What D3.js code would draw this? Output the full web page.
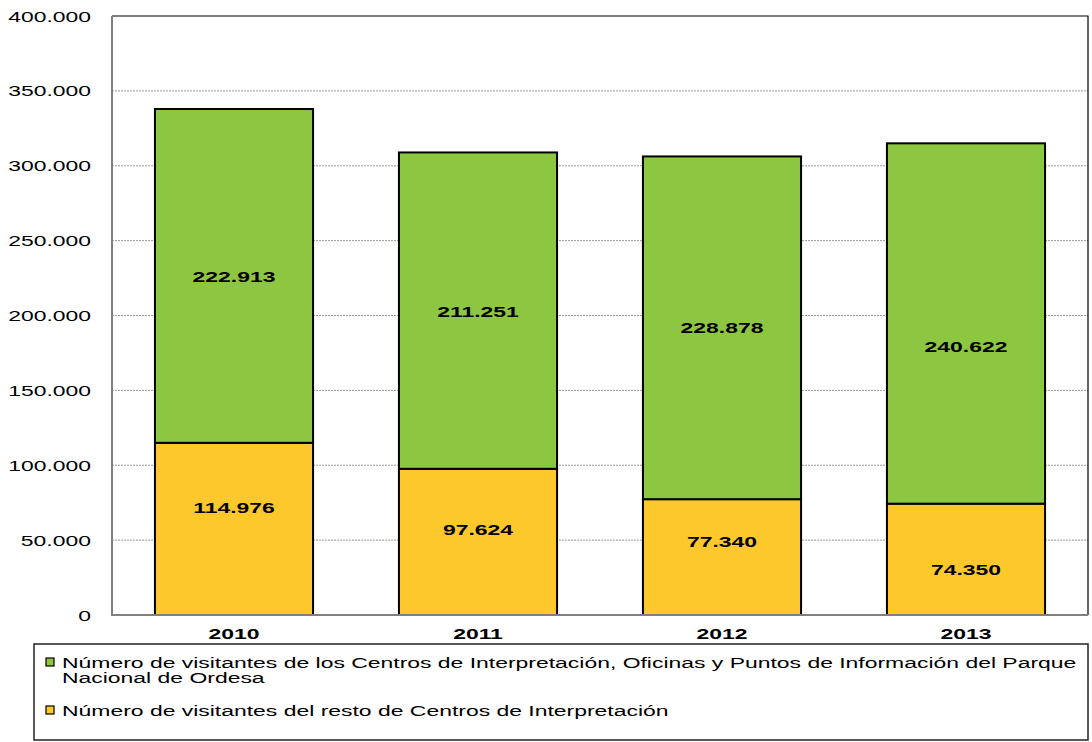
<!DOCTYPE html>
<html>
<head>
<meta charset="utf-8">
<script src="https://cdn.jsdelivr.net/npm/d3@7/dist/d3.min.js"></script>
<style>
  html, body { margin: 0; padding: 0; background: #fff; }
  svg { display: block; }
  text { font-family: "Liberation Sans", Arial, sans-serif; fill: #000; }
</style>
</head>
<body>
<svg id="chart" width="1092" height="742"></svg>
<script>
// ---- data ----
const categories = ["2010", "2011", "2012", "2013"];
const seriesNames = [
  "Número de visitantes de los Centros de Interpretación, Oficinas y Puntos de Información del Parque Nacional de Ordesa",
  "Número de visitantes del resto de Centros de Interpretación"
];
const restoValues = [114976, 97624, 77340, 74350];
const ordesaValues = [222913, 211251, 228878, 240622];
// label anchor values (in data units) as placed in the picture
const restoLabelAt = [71500, 57400, 48800, 30700];
const ordesaLabelAt = [226400, 203000, 191700, 179000];
const yTicks = [0, 50000, 100000, 150000, 200000, 250000, 300000, 350000, 400000];

// ---- setup ----
const W = 1092, H = 742;
const plot = { left: 112, right: 1088, top: 16, bottom: 615 };
const SX = 1.48; // horizontal stretch of text
const colors = { ordesa: "#8DC641", resto: "#FDC82B" };

const svg = d3.select("#chart");
const fmt = d3.formatLocale({ decimal: ",", thousands: ".", grouping: [3], currency: ["", "€"] }).format(",d");

const x = d3.scaleBand().domain(categories).range([plot.left, plot.right]).paddingInner(0.352).paddingOuter(0.176);
const y = d3.scaleLinear().domain([0, 400000]).range([plot.bottom, plot.top]);

function stretchedText(g, tx, ty, str, opts) {
  const t = g.append("text")
    .attr("transform", `translate(${tx},${ty}) scale(${SX},1)`)
    .attr("text-anchor", opts.anchor || "middle")
    .attr("dominant-baseline", "central")
    .style("font-size", (opts.size || 15.5) + "px")
    .style("font-weight", opts.bold ? "bold" : "normal")
    .text(str);
  return t;
}

// plot background
svg.append("rect").attr("x", plot.left).attr("y", plot.top)
  .attr("width", plot.right - plot.left).attr("height", plot.bottom - plot.top)
  .attr("fill", "#fff");

// gridlines
svg.append("g").selectAll("line").data(yTicks.filter(d => d > 0 && d < 400000)).join("line")
  .attr("x1", plot.left).attr("x2", plot.right)
  .attr("y1", d => y(d)).attr("y2", d => y(d))
  .attr("stroke", "#9a9a9a").attr("stroke-width", 1).attr("stroke-dasharray", "2,1");

// top & right border
svg.append("path")
  .attr("d", `M${plot.left},${y(400000)}H${plot.right}V${plot.bottom}`)
  .attr("fill", "none").attr("stroke", "#000").attr("stroke-width", 1.2);

// bars
const stackData = categories.map((c, i) => ({ cat: c, resto: restoValues[i], ordesa: ordesaValues[i] }));
const stack = d3.stack().keys(["resto", "ordesa"])(stackData);
const barsG = svg.append("g");
stack.forEach(layer => {
  barsG.append("g").selectAll("rect").data(layer).join("rect")
    .attr("x", d => x(d.data.cat))
    .attr("width", x.bandwidth())
    .attr("y", d => y(d[1]))
    .attr("height", d => y(d[0]) - y(d[1]))
    .attr("fill", colors[layer.key])
    .attr("stroke", "#000").attr("stroke-width", 2);
});

// axes lines (gray)
svg.append("line").attr("x1", plot.left).attr("x2", plot.left).attr("y1", plot.top).attr("y2", plot.bottom + 1)
  .attr("stroke", "#808080").attr("stroke-width", 2);
svg.append("line").attr("x1", plot.left - 1).attr("x2", plot.right).attr("y1", plot.bottom).attr("y2", plot.bottom)
  .attr("stroke", "#808080").attr("stroke-width", 2);

// bar value labels
const lblG = svg.append("g");
categories.forEach((c, i) => {
  const cx = x(c) + x.bandwidth() / 2;
  stretchedText(lblG, cx, y(restoLabelAt[i]), fmt(restoValues[i]), { bold: true, size: 15.5 });
  stretchedText(lblG, cx, y(ordesaLabelAt[i]), fmt(ordesaValues[i]), { bold: true, size: 15.5 });
});

// y axis labels
const yG = svg.append("g");
yTicks.forEach(t => {
  stretchedText(yG, 91, y(t), fmt(t), { anchor: "end", size: 15.5 });
});

// x axis labels
const xG = svg.append("g");
categories.forEach(c => {
  stretchedText(xG, x(c) + x.bandwidth() / 2, 633, c, { bold: true, size: 15.5 });
});

// legend
const leg = { left: 34, right: 1088, top: 644, bottom: 740 };
svg.append("rect").attr("x", leg.left).attr("y", leg.top)
  .attr("width", leg.right - leg.left).attr("height", leg.bottom - leg.top)
  .attr("fill", "#fff").attr("stroke", "#222").attr("stroke-width", 1.5);

const legG = svg.append("g");
const textX = 62, maxW = leg.right - 4 - textX;
const rowTops = [662, 710];
const lineH = 15.5;
seriesNames.forEach((name, i) => {
  const col = i === 0 ? colors.ordesa : colors.resto;
  legG.append("rect").attr("x", 46).attr("y", rowTops[i] - 4).attr("width", 8).attr("height", 8)
    .attr("fill", col).attr("stroke", "#000").attr("stroke-width", 1.2);
  // word wrap
  const words = name.split(" ");
  let lines = [], cur = "";
  const probe = legG.append("text").style("font-size", "15.5px");
  words.forEach(w => {
    const test = cur ? cur + " " + w : w;
    probe.text(test);
    if (probe.node().getComputedTextLength() * SX > maxW && cur) {
      lines.push(cur); cur = w;
    } else cur = test;
  });
  lines.push(cur);
  probe.remove();
  lines.forEach((ln, j) => {
    stretchedText(legG, textX, rowTops[i] + j * lineH, ln, { anchor: "start", size: 15.5 });
  });
});
</script>
</body>
</html>
